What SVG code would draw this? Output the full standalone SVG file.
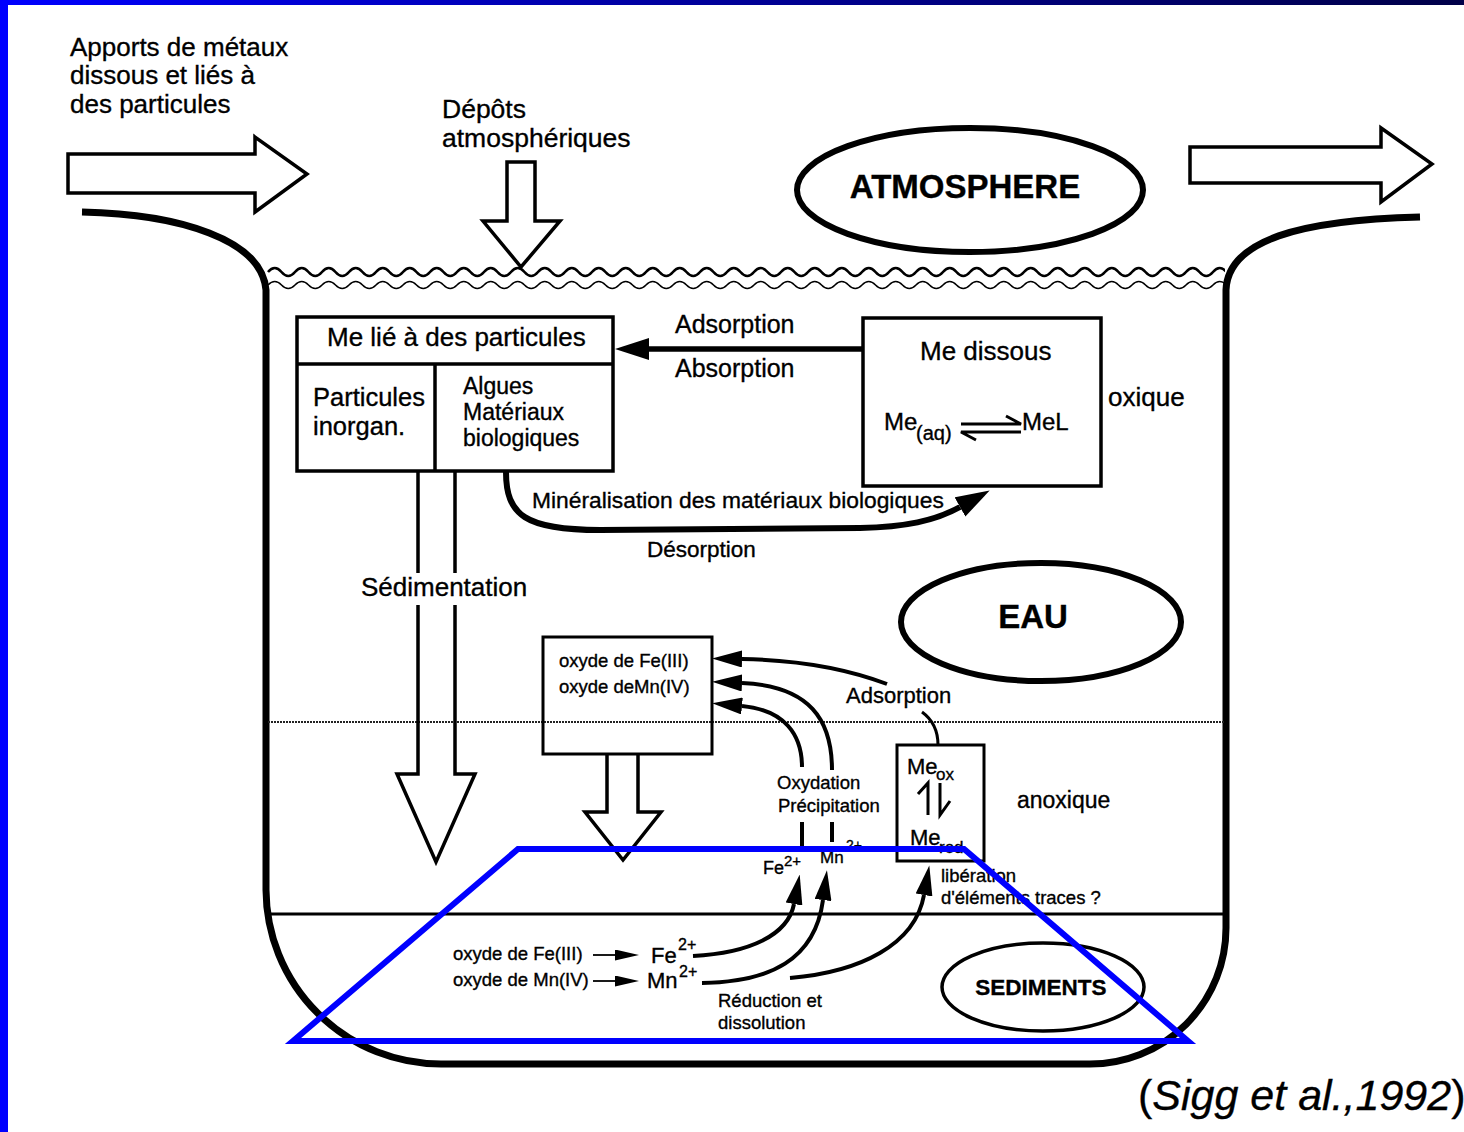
<svg xmlns="http://www.w3.org/2000/svg" width="1464" height="1132" viewBox="0 0 1464 1132">
<defs>
<style>
text{font-family:"Liberation Sans",Arial,Helvetica,sans-serif;fill:#000;stroke:#000;stroke-width:0.35}
.b{font-weight:bold}
.ln{fill:none;stroke:#000}
.box{fill:none;stroke:#000;stroke-width:3.5}
.hol{fill:none;stroke:#000;stroke-width:3.5;stroke-linejoin:miter}
</style>
<linearGradient id="bar" x1="0" y1="0" x2="1" y2="0">
<stop offset="0" stop-color="#0000ff"/>
<stop offset="0.45" stop-color="#0000a0"/>
<stop offset="1" stop-color="#000048"/>
</linearGradient>
<clipPath id="inner"><rect x="267" y="255" width="958" height="40"/></clipPath>
<marker id="mA" viewBox="0 0 34 22" refX="0" refY="11" markerWidth="34" markerHeight="22" markerUnits="userSpaceOnUse" orient="auto"><path d="M0,0 L34,11 L0,22 Z" fill="#000"/></marker>
<marker id="mB" viewBox="0 0 30 17" refX="0" refY="8.5" markerWidth="30" markerHeight="17" markerUnits="userSpaceOnUse" orient="auto"><path d="M0,0 L30,8.5 L0,17 Z" fill="#000"/></marker>
<marker id="mC" viewBox="0 0 24 11" refX="0" refY="5.5" markerWidth="24" markerHeight="11" markerUnits="userSpaceOnUse" orient="auto"><path d="M0,0 L24,5.5 L0,11 Z" fill="#000"/></marker>
</defs>
<rect x="0" y="0" width="1464" height="1132" fill="#fff"/>
<g id="frame">
<rect x="0" y="0" width="1464" height="5" fill="url(#bar)"/>
<rect x="0" y="0" width="8" height="1132" fill="#0000ff"/>
</g>
<g id="vessel">
<path class="ln" stroke-width="7" d="M82,212 C180,214 262,240 266,290 L266,890 A175,175 0 0 0 441,1064 L1090,1064 A136,136 0 0 0 1226,928 L1226,290 C1228,240 1300,220 1420,217"/>
<g clip-path="url(#inner)">
<path class="ln" stroke-width="2.6" d="M268,272 q6.75,-8 13.5,0 t13.5,0t13.5,0t13.5,0t13.5,0t13.5,0t13.5,0t13.5,0t13.5,0t13.5,0t13.5,0 t13.5,0t13.5,0t13.5,0t13.5,0t13.5,0t13.5,0t13.5,0t13.5,0t13.5,0t13.5,0 t13.5,0t13.5,0t13.5,0t13.5,0t13.5,0t13.5,0t13.5,0t13.5,0t13.5,0t13.5,0 t13.5,0t13.5,0t13.5,0t13.5,0t13.5,0t13.5,0t13.5,0t13.5,0t13.5,0t13.5,0 t13.5,0t13.5,0t13.5,0t13.5,0t13.5,0t13.5,0t13.5,0t13.5,0t13.5,0t13.5,0 t13.5,0t13.5,0t13.5,0t13.5,0t13.5,0t13.5,0t13.5,0t13.5,0t13.5,0t13.5,0 t13.5,0t13.5,0t13.5,0t13.5,0t13.5,0t13.5,0t13.5,0t13.5,0t13.5,0t13.5,0 t13.5,0t13.5,0t13.5,0t13.5,0t13.5,0t13.5,0"/>
<path class="ln" stroke-width="1.5" d="M268,285 q6.75,-7 13.5,0 t13.5,0t13.5,0t13.5,0t13.5,0t13.5,0t13.5,0t13.5,0t13.5,0t13.5,0t13.5,0 t13.5,0t13.5,0t13.5,0t13.5,0t13.5,0t13.5,0t13.5,0t13.5,0t13.5,0t13.5,0 t13.5,0t13.5,0t13.5,0t13.5,0t13.5,0t13.5,0t13.5,0t13.5,0t13.5,0t13.5,0 t13.5,0t13.5,0t13.5,0t13.5,0t13.5,0t13.5,0t13.5,0t13.5,0t13.5,0t13.5,0 t13.5,0t13.5,0t13.5,0t13.5,0t13.5,0t13.5,0t13.5,0t13.5,0t13.5,0t13.5,0 t13.5,0t13.5,0t13.5,0t13.5,0t13.5,0t13.5,0t13.5,0t13.5,0t13.5,0t13.5,0 t13.5,0t13.5,0t13.5,0t13.5,0t13.5,0t13.5,0t13.5,0t13.5,0t13.5,0t13.5,0 t13.5,0t13.5,0t13.5,0t13.5,0t13.5,0t13.5,0"/>
</g>
<line x1="268" y1="722" x2="1224" y2="722" stroke="#222" stroke-width="2" stroke-dasharray="2 1"/>
<line x1="266" y1="914" x2="1226" y2="914" stroke="#000" stroke-width="3"/>
</g>
<g id="apports">
<text x="70" y="56" font-size="26">Apports de métaux</text>
<text x="70" y="84" font-size="26">dissous et liés à</text>
<text x="70" y="113" font-size="26">des particules</text>
<path class="hol" d="M68,154 H255 V137 L307,174 L255,212 V193 H68 Z"/>
</g>
<g id="depots">
<text x="442" y="118" font-size="26.5">Dépôts</text>
<text x="442" y="147" font-size="26.5">atmosphériques</text>
<path class="hol" d="M507,162 H535 V221 H560 L521,267 L483,221 H507 Z"/>
</g>
<g id="sortie">
<path class="hol" d="M1190,147 H1381 V128 L1432,164 L1381,202 V183 H1190 Z"/>
</g>
<g id="atmosphere">
<ellipse cx="970" cy="190" rx="173" ry="62" fill="none" stroke="#000" stroke-width="6"/>
<text x="965" y="198" font-size="33" class="b" text-anchor="middle">ATMOSPHERE</text>
</g>
<g id="me-particules">
<rect class="box" x="297" y="317" width="316" height="154"/>
<line x1="297" y1="364" x2="613" y2="364" stroke="#000" stroke-width="3.5"/>
<line x1="435" y1="364" x2="435" y2="471" stroke="#000" stroke-width="3.5"/>
<text x="327" y="346" font-size="26">Me lié à des particules</text>
<text x="313" y="406" font-size="25.5">Particules</text>
<text x="313" y="435" font-size="25.5">inorgan.</text>
<text x="463" y="394" font-size="23">Algues</text>
<text x="463" y="420" font-size="23">Matériaux</text>
<text x="463" y="446" font-size="23">biologiques</text>
</g>
<g id="me-dissous">
<rect class="box" x="863" y="318" width="238" height="168"/>
<text x="920" y="360" font-size="26">Me dissous</text>
<text x="884" y="430" font-size="24">Me</text>
<text x="916" y="440" font-size="20">(aq)</text>
<path class="ln" stroke-width="3" d="M961,424 H1021 L1006,416"/>
<path class="ln" stroke-width="3" d="M1021,432 H961 L976,440"/>
<text x="1022" y="430" font-size="24">MeL</text>
<text x="1108" y="406" font-size="26">oxique</text>
</g>
<g id="eau">
<ellipse cx="1041" cy="622" rx="140" ry="59" fill="none" stroke="#000" stroke-width="6"/>
<text x="1033" y="628" font-size="33" class="b" text-anchor="middle">EAU</text>
</g>
<g id="oxydes">
<rect x="543" y="637" width="169" height="117" fill="none" stroke="#000" stroke-width="3"/>
<text x="559" y="667" font-size="18.5">oxyde de Fe(III)</text>
<text x="559" y="693" font-size="18.5">oxyde deMn(IV)</text>
</g>
<g id="me-ox-red">
<rect x="897" y="745" width="87" height="116" fill="none" stroke="#000" stroke-width="3"/>
<text x="907" y="774" font-size="22">Me</text>
<text x="936" y="780" font-size="17">ox</text>
<path class="ln" stroke-width="3" d="M928,815 V783 L918,794"/>
<path class="ln" stroke-width="3" d="M940,783 V815 L950,801"/>
<text x="910" y="845" font-size="22">Me</text>
<text x="939" y="853" font-size="17">red</text>
</g>
<g id="sediments">
<ellipse cx="1043" cy="987" rx="101" ry="44" fill="none" stroke="#000" stroke-width="3.5"/>
<text x="1041" y="995" font-size="22.5" class="b" text-anchor="middle">SEDIMENTS</text>
</g>
<g id="labels">
<text x="675" y="333" font-size="25">Adsorption</text>
<text x="675" y="377" font-size="25">Absorption</text>
<text x="532" y="508" font-size="22.8">Minéralisation des matériaux biologiques</text>
<text x="647" y="557" font-size="22.5">Désorption</text>
<text x="361" y="596" font-size="26">Sédimentation</text>
<text x="846" y="703" font-size="22">Adsorption</text>
<text x="777" y="789" font-size="18.5">Oxydation</text>
<text x="778" y="812" font-size="18.5">Précipitation</text>
<text x="763" y="874" font-size="18">Fe</text>
<text x="784" y="866" font-size="15">2+</text>
<text x="820" y="863" font-size="17">Mn</text>
<text x="846" y="850" font-size="14">2+</text>
<text x="1017" y="808" font-size="23">anoxique</text>
<text x="941" y="882" font-size="18.5">libération</text>
<text x="941" y="904" font-size="18.5">d'éléments traces ?</text>
<text x="453" y="960" font-size="18.5">oxyde de Fe(III)</text>
<text x="453" y="986" font-size="18.5">oxyde de Mn(IV)</text>
<text x="651" y="963" font-size="22">Fe</text>
<text x="678" y="950" font-size="16">2+</text>
<text x="647" y="988" font-size="22">Mn</text>
<text x="679" y="977" font-size="16">2+</text>
<text x="718" y="1007" font-size="18.5">Réduction et</text>
<text x="718" y="1029" font-size="18.5">dissolution</text>
</g>
<g id="connectors">
<path class="hol" d="M418,471 V573 M455,471 V573 M418,605 V774 H397 L436,862 L475,774 H455 V605"/>
<path class="hol" d="M607,754 V812 H585 L623,860 L661,812 H638 V754"/>
<line x1="863" y1="349" x2="649" y2="349" stroke="#000" stroke-width="5.5" marker-end="url(#mA)"/>
<path class="ln" stroke-width="6" d="M506,472 C506,515 525,530 600,530 L860,528 C905,527 935,521 960,507" marker-end="url(#mA)"/>
<path class="ln" stroke-width="4" d="M887,684 C850,670 800,660 742,659" marker-end="url(#mB)"/>
<path class="ln" stroke-width="4" d="M832,770 C832,720 810,686 742,683" marker-end="url(#mB)"/>
<path class="ln" stroke-width="4" d="M802,767 C802,735 785,710 742,706" marker-end="url(#mB)"/>
<line x1="802" y1="822" x2="802" y2="847" stroke="#000" stroke-width="4"/>
<line x1="832" y1="822" x2="832" y2="842" stroke="#000" stroke-width="4"/>
<path class="ln" stroke-width="3" d="M922,712 C933,720 938,730 938,745"/>
<line x1="593" y1="955" x2="615" y2="955" stroke="#000" stroke-width="1.8" marker-end="url(#mC)"/>
<line x1="593" y1="981" x2="615" y2="981" stroke="#000" stroke-width="1.8" marker-end="url(#mC)"/>
<path class="ln" stroke-width="4" d="M693,956 C750,953 788,935 794,904" marker-end="url(#mB)"/>
<path class="ln" stroke-width="4" d="M702,983 C770,982 815,960 823,900" marker-end="url(#mB)"/>
<path class="ln" stroke-width="4" d="M790,978 C860,972 915,945 924,895" marker-end="url(#mB)"/>
</g>
<g id="zone">
<polygon points="293,1041 518,849 964,849 1188,1041" fill="none" stroke="#0000ff" stroke-width="6"/>
</g>
<g id="source">
<text x="1138" y="1110" font-size="43" stroke-width="0">(<tspan font-style="italic">Sigg et al.,1992</tspan>)</text>
</g>
</svg>
